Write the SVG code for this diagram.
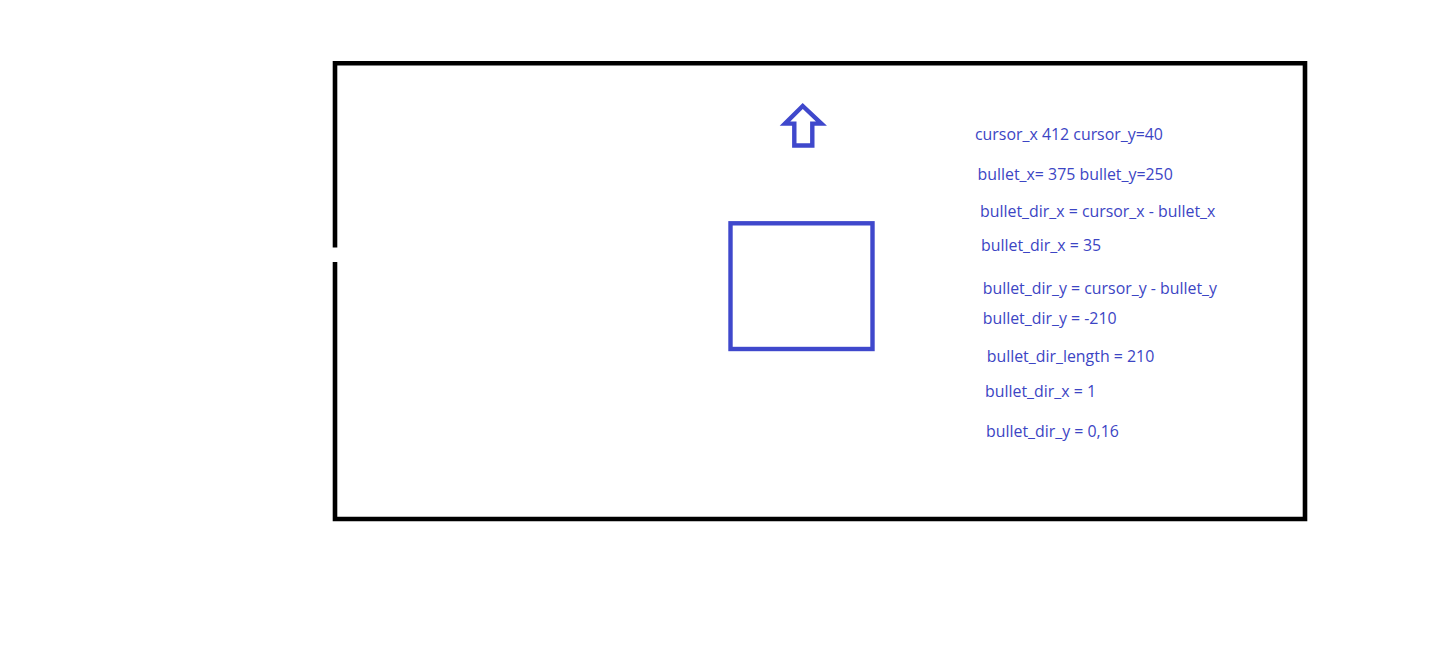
<svg xmlns="http://www.w3.org/2000/svg" width="1438" height="648" viewBox="0 0 1438 648">
<style>
.frame{fill:none;stroke:#000;stroke-width:4.6}
.blue{fill:none;stroke:#3f48cc;stroke-width:4.4;stroke-linejoin:miter}
.t{font-family:"Open Sans","Noto Sans",sans-serif;font-size:15.9px;fill:#3c45c4}
</style>
<rect width="1438" height="648" fill="#fff"/>
<g id="frame">
<path class="frame" d="M335,247.5 V63.3 H1305 V519 H335 V262"/>
</g>
<g id="arrow">
<path class="blue" d="M802.7,106 L785,123.6 H794.3 V145.5 H812.3 V123.6 H821.4 Z"/>
</g>
<g id="square">
<rect class="blue" x="730.5" y="223.3" width="142" height="125.7"/>
</g>
<g id="labels">
<text class="t" x="975" y="140">cursor_x 412 cursor_y=40</text>
<text class="t" x="977.5" y="180">bullet_x= 375 bullet_y=250</text>
<text class="t" x="980" y="217">bullet_dir_x = cursor_x - bullet_x</text>
<text class="t" x="981" y="251">bullet_dir_x = 35</text>
<text class="t" x="982.7" y="294">bullet_dir_y = cursor_y - bullet_y</text>
<text class="t" x="982.7" y="323.5">bullet_dir_y = -210</text>
<text class="t" x="986.7" y="361.7">bullet_dir_length = 210</text>
<text class="t" x="985" y="396.7">bullet_dir_x = 1</text>
<text class="t" x="986" y="436.7">bullet_dir_y = 0,16</text>
</g>
</svg>
